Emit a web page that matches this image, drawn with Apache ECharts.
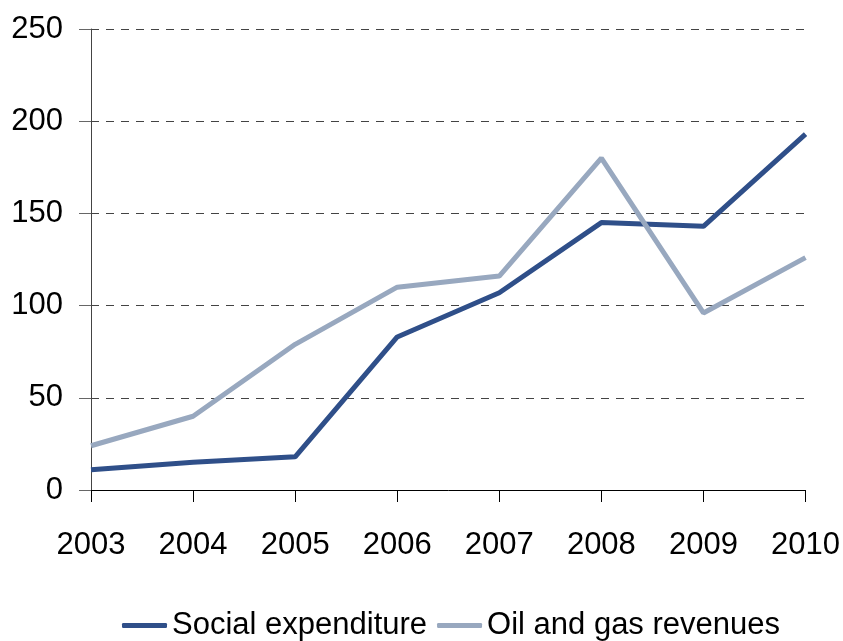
<!DOCTYPE html>
<html>
	<head>
		<meta charset="utf-8">
		<title></title>
		<style>
			body{margin:0;}
			#main{
				width: 843px;
				height: 641px;
			}
		</style>
	</head>
	<body>
		<div id="main"></div>
		<script src="https://cdn.jsdelivr.net/npm/echarts@6/dist/echarts.min.js"></script>
		<script>
			// data
			var years=['2003','2004','2005','2006','2007','2008','2009','2010']
			var social=[11,15,18,83,107,145,143,193]
			var oilGas=[24,40,79,110,116,180,96,126]

			var font="'Liberation Sans',Arial,sans-serif"
			var mychart=echarts.init(document.getElementById("main"))
			var option={
				animation:false,
				grid:{left:91,right:37,top:29,bottom:151,containLabel:false},
				legend:{
					top:605,
					left:117,
					itemWidth:45,
					itemHeight:5,
					itemGap:10,
					icon:'roundRect',
					textStyle:{fontFamily:font,fontSize:31,color:'#000'},
					data:['Social expenditure','Oil and gas revenues']
				},
				xAxis:{
					type:'category',
					data:years,
					boundaryGap:false,
					axisLine:{lineStyle:{color:'#000',width:1}},
					axisTick:{show:true,length:12,lineStyle:{color:'#000'}},
					axisLabel:{fontFamily:font,fontSize:31,color:'#000',margin:40}
				},
				yAxis:{
					type:'value',
					min:0,max:250,interval:50,
					axisLine:{show:true,lineStyle:{color:'#444',width:1}},
					axisTick:{show:true,length:12,lineStyle:{color:'#666'}},
					axisLabel:{fontFamily:font,fontSize:31,color:'#000',margin:28},
					splitLine:{show:true,lineStyle:{color:'#444',type:[8,7],width:1}}
				},
				series:[
					{
						name:'Social expenditure',
						type:'line',
						data:social,
						symbol:'none',
						color:'#2F4F89',
						lineStyle:{width:5,color:'#2F4F89'}
					},
					{
						name:'Oil and gas revenues',
						type:'line',
						data:oilGas,
						symbol:'none',
						color:'#98A8BF',
						lineStyle:{width:5,color:'#98A8BF'}
					}
				]
			};
			mychart.setOption(option);
		</script>
	</body>
</html>
